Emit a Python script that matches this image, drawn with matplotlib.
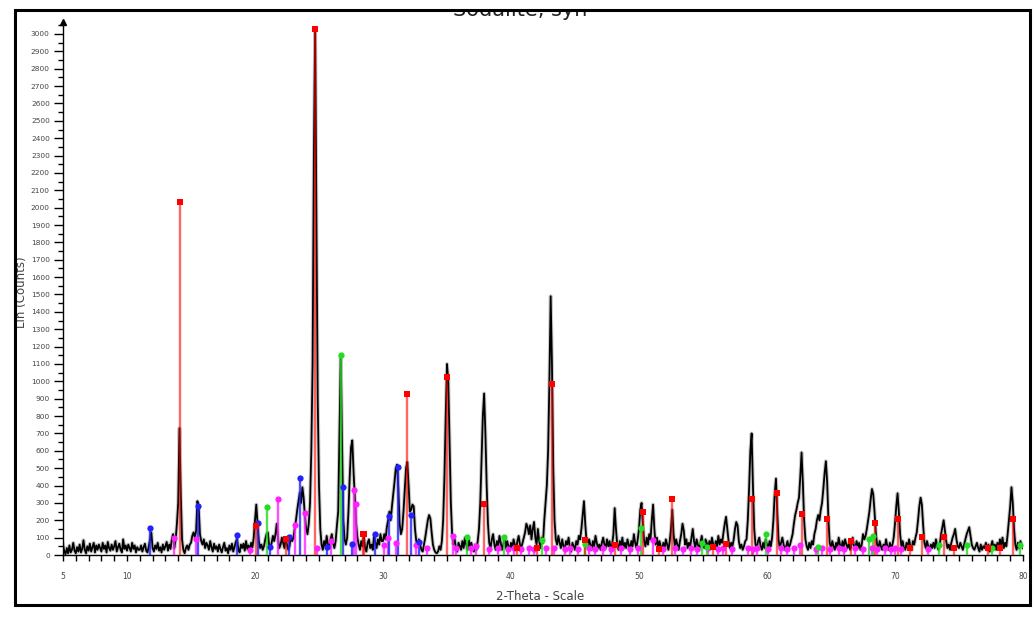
import matplotlib
matplotlib.use("Agg")
import matplotlib.pyplot as plt
from matplotlib.patches import Rectangle
import numpy as np

# ---------------- data ----------------
two_theta_start = 5.0
two_theta_step = 0.1
# measured pattern, one row per degree (x.0 ... x.9), 5..79 then 80.0
counts_rows = [
    [60, 20, 5, 40, 10, 55, 15, 30, 70, 25],          # 5
    [10, 45, 20, 60, 15, 35, 85, 30, 10, 50],         # 6
    [25, 65, 20, 45, 70, 15, 55, 30, 60, 40],         # 7
    [20, 70, 35, 55, 15, 75, 40, 25, 60, 30],         # 8
    [50, 80, 20, 45, 65, 30, 15, 90, 35, 55],         # 9
    [25, 60, 40, 20, 70, 35, 55, 15, 45, 30],         # 10
    [30, 55, 20, 45, 65, 25, 15, 50, 90, 130],        # 11
    [40, 20, 55, 35, 70, 25, 45, 15, 60, 30],         # 12
    [50, 75, 25, 60, 35, 90, 120, 40, 90, 180],       # 13
    [300, 730, 350, 90, 30, 10, 40, 55, 30, 60],      # 14
    [70, 110, 130, 100, 140, 310, 280, 120, 80, 60],  # 15
    [90, 40, 70, 55, 30, 80, 45, 20, 65, 35],         # 16
    [50, 20, 60, 35, 15, 45, 70, 25, 40, 10],         # 17
    [55, 30, 65, 20, 45, 75, 95, 30, 15, 60],         # 18
    [40, 65, 25, 80, 35, 55, 20, 70, 45, 100],        # 19
    [200, 290, 180, 80, 40, 60, 30, 50, 90, 120],     # 20
    [130, 60, 40, 70, 110, 80, 120, 180, 90, 40],     # 21
    [60, 100, 70, 40, 90, 60, 30, 50, 110, 80],       # 22
    [100, 150, 200, 260, 310, 360, 300, 390, 330, 220],   # 23
    [150, 120, 180, 300, 600, 1100, 2300, 3030, 1900, 900],  # 24
    [400, 150, 60, 30, 80, 50, 110, 60, 40, 90],      # 25
    [120, 70, 40, 80, 170, 250, 700, 1150, 650, 200], # 26
    [90, 60, 100, 250, 450, 620, 660, 480, 330, 180], # 27
    [100, 60, 30, 80, 50, 110, 40, 20, 70, 90],       # 28
    [40, 60, 30, 110, 70, 40, 90, 60, 120, 80],       # 29
    [80, 120, 90, 160, 200, 250, 200, 280, 350, 420], # 30
    [500, 520, 380, 180, 120, 150, 250, 380, 500, 535],  # 31
    [400, 250, 260, 290, 280, 150, 80, 50, 90, 60],   # 32
    [30, 20, 60, 100, 150, 200, 230, 210, 130, 60],   # 33
    [30, 15, 10, 20, 50, 30, 80, 200, 450, 800],      # 34
    [1100, 1000, 650, 300, 120, 60, 90, 40, 20, 70],  # 35
    [50, 30, 80, 40, 100, 60, 30, 90, 50, 70],        # 36
    [40, 20, 60, 30, 80, 150, 300, 550, 800, 930],    # 37
    [700, 400, 180, 70, 40, 90, 120, 60, 30, 80],     # 38
    [50, 110, 70, 30, 60, 100, 40, 80, 50, 30],       # 39
    [70, 40, 90, 60, 30, 80, 110, 60, 40, 70],        # 40
    [100, 130, 180, 160, 120, 170, 90, 150, 190, 100],  # 41
    [60, 150, 80, 40, 100, 70, 200, 300, 400, 600],   # 42
    [1000, 1490, 1100, 500, 200, 90, 60, 110, 70, 40],  # 43
    [90, 50, 30, 80, 60, 100, 40, 20, 70, 50],        # 44
    [30, 80, 60, 110, 90, 150, 230, 310, 180, 80],    # 45
    [40, 90, 60, 30, 80, 50, 110, 70, 40, 60],        # 46
    [30, 70, 100, 60, 40, 90, 50, 80, 30, 60],        # 47
    [120, 270, 150, 60, 30, 80, 50, 100, 40, 70],     # 48
    [40, 90, 60, 30, 80, 50, 120, 70, 40, 90],        # 49
    [150, 260, 300, 180, 80, 50, 100, 60, 120, 90],   # 50
    [200, 290, 150, 60, 100, 40, 80, 50, 30, 70],     # 51
    [40, 90, 60, 30, 80, 150, 260, 120, 50, 90],      # 52
    [60, 30, 80, 120, 180, 140, 60, 90, 40, 70],      # 53
    [50, 100, 150, 80, 40, 90, 60, 30, 70, 110],      # 54
    [60, 40, 90, 70, 30, 80, 50, 100, 60, 40],        # 55
    [80, 50, 110, 60, 90, 70, 130, 180, 220, 150],    # 56
    [80, 40, 70, 50, 90, 150, 190, 170, 80, 40],      # 57
    [60, 30, 50, 80, 90, 200, 380, 600, 700, 400],    # 58
    [150, 60, 40, 80, 100, 50, 30, 70, 40, 90],       # 59
    [60, 40, 80, 50, 100, 200, 350, 440, 250, 90],    # 60
    [40, 70, 100, 60, 30, 50, 80, 40, 60, 90],        # 61
    [120, 180, 230, 260, 300, 330, 450, 590, 420, 200],  # 62
    [90, 50, 30, 70, 40, 80, 60, 120, 150, 200],      # 63
    [230, 200, 260, 300, 380, 470, 540, 420, 200, 70],  # 64
    [40, 80, 50, 30, 70, 40, 100, 60, 30, 80],        # 65
    [50, 90, 60, 40, 70, 30, 60, 100, 50, 40],        # 66
    [80, 40, 70, 30, 60, 120, 90, 110, 150, 200],     # 67
    [250, 320, 380, 350, 250, 130, 60, 40, 80, 50],   # 68
    [30, 60, 40, 90, 50, 30, 70, 40, 60, 100],        # 69
    [180, 280, 355, 250, 120, 50, 80, 40, 30, 70],    # 70
    [40, 90, 50, 30, 80, 60, 100, 130, 200, 280],     # 71
    [330, 290, 170, 70, 40, 80, 50, 30, 60, 40],      # 72
    [70, 40, 90, 50, 30, 60, 120, 160, 200, 140],     # 73
    [80, 40, 60, 30, 70, 100, 120, 150, 90, 50],      # 74
    [40, 70, 50, 30, 60, 90, 120, 140, 160, 110],     # 75
    [60, 40, 30, 50, 70, 40, 20, 60, 30, 50],         # 76
    [40, 70, 30, 60, 20, 50, 80, 40, 60, 30],         # 77
    [70, 40, 90, 60, 100, 40, 70, 50, 120, 200],      # 78
    [280, 390, 300, 150, 60, 30, 70, 40, 80, 50],     # 79
    [40],                                             # 80
]

red_pos = [14.15, 20.1, 22.4, 24.65, 28.4, 28.5, 31.9, 35.0, 37.9, 40.5, 42.0, 43.2,
           45.8, 48.1, 50.3, 51.6, 52.6, 55.8, 56.8, 58.8, 60.8, 62.7, 64.7, 66.6,
           68.4, 70.2, 71.2, 72.1, 73.85, 74.6, 77.3, 78.2, 79.2]
red_h = [2030, 165, 90, 3030, 120, 120, 925, 1025, 295, 40, 40, 985,
         85, 60, 245, 35, 325, 45, 65, 325, 355, 235, 210, 80,
         185, 210, 40, 105, 105, 40, 40, 40, 210]

blue_pos = [11.8, 15.55, 18.6, 20.2, 21.2, 22.65, 23.5, 25.6, 26.9, 27.6, 29.4,
            30.5, 31.15, 32.2, 32.8]
blue_h = [155, 280, 115, 185, 45, 105, 445, 45, 390, 65, 120, 225, 505, 230, 75]

green_pos = [20.9, 26.75, 36.55, 39.45, 42.4, 45.8, 50.15, 54.9, 55.3, 59.9, 64.0,
             68.0, 68.3, 73.4, 75.6, 77.6, 79.75]
green_h = [275, 1150, 105, 105, 85, 65, 155, 70, 45, 120, 45, 95, 110, 60, 60, 40, 60]

magenta_pos = [13.7, 15.4, 19.6, 21.8, 23.1, 23.9, 24.85, 25.9, 27.7, 27.9, 30.1, 30.4,
               31.0, 32.6, 33.4, 35.5, 35.7, 36.9, 37.3, 38.3, 39.0, 39.8, 40.2, 40.8,
               41.4, 41.8, 42.7, 43.35, 44.2, 44.6, 45.2, 46.1, 46.6, 47.2, 47.8, 48.6,
               49.3, 49.9, 51.1, 51.9, 52.8, 53.4, 54.1, 54.5, 55.4, 56.2, 56.6, 57.3,
               58.5, 58.9, 59.2, 60.1, 61.1, 61.6, 62.1, 62.6, 63.8, 64.3, 64.9, 65.6,
               66.0, 66.9, 67.5, 68.2, 68.6, 69.2, 69.7, 70.0, 70.5, 72.6]
magenta_h = [100, 95, 30, 320, 170, 240, 40, 80, 375, 295, 60, 100,
             70, 55, 40, 110, 40, 40, 50, 35, 40, 35, 40, 35,
             40, 35, 40, 40, 35, 40, 35, 40, 35, 40, 35, 40,
             35, 40, 85, 35, 40, 35, 40, 35, 40, 35, 40, 35,
             40, 35, 40, 35, 40, 35, 40, 60, 35, 40, 35, 40,
             35, 40, 35, 40, 35, 40, 35, 40, 35, 35]

y_ticks = list(range(0, 3001, 100))
x_ticks = [5, 10, 20, 30, 40, 50, 60, 70, 80]
title_text = "Sodalite, syn"
x_label = "2-Theta - Scale"
y_label = "Lin (Counts)"

# ---------------- figure ----------------
counts = np.array([v for row in counts_rows for v in row], dtype=float)
two_theta = two_theta_start + two_theta_step * np.arange(len(counts))

W, H = 1035, 620
fig = plt.figure(figsize=(W / 100, H / 100), dpi=100)
fig.patch.set_facecolor("white")

ax_l, ax_r, ax_b, ax_t = 63, 1023, 555, 22
ax = fig.add_axes([ax_l / W, 1 - ax_b / H, (ax_r - ax_l) / W, (ax_b - ax_t) / H])
ax.set_xlim(5, 80)
ax.set_ylim(0, 3069)

# soft grey halo + dark core, like the blurred scan trace
ax.plot(two_theta, counts, color="#888888", lw=2.8, alpha=0.45, zorder=2,
        solid_joinstyle="round")
ax.plot(two_theta, counts, color="#000000", lw=1.3, zorder=2.1)


def sticks(pos, h, color, marker, ms, alpha):
    ax.vlines(pos, 0, h, colors=color, lw=1.7, alpha=alpha, zorder=3)
    ax.plot(pos, h, ls="none", marker=marker, ms=ms, color=color,
            markeredgewidth=0, zorder=4, clip_on=False)


sticks(magenta_pos, magenta_h, "#ff22ff", "o", 4.5, 0.8)
sticks(blue_pos, blue_h, "#2222ff", "o", 4.5, 0.8)
sticks(green_pos, green_h, "#22dd22", "o", 4.5, 0.8)
sticks(red_pos, red_h, "#ff0000", "s", 5, 0.6)

for s in ["top", "right"]:
    ax.spines[s].set_visible(False)
for s in ["left", "bottom"]:
    ax.spines[s].set_linewidth(1.0)
    ax.spines[s].set_color("black")

ax.set_yticks(y_ticks)
ax.set_yticks(np.arange(50, 3051, 100), minor=True)
ax.set_xticks(x_ticks)
ax.set_xticks(np.arange(5, 81, 1), minor=True)

ax.tick_params(axis="y", which="major", direction="out", length=6.5, width=1,
               labelsize=5.3, pad=3, labelcolor="#444444")
ax.tick_params(axis="y", which="minor", direction="out", length=3.6, width=1)
ax.tick_params(axis="x", which="both", direction="out", length=4, width=1,
               labelsize=5.5, pad=8, labelcolor="#444444")

ax.plot([0], [1], marker="^", ms=4, color="black", transform=ax.transAxes,
        clip_on=False, zorder=5)

fig.text(22 / W, 1 - 292 / H, y_label, rotation=90, ha="center", va="center",
         fontsize=8.5, color="#444444")
fig.text(540 / W, 1 - 597 / H, x_label, ha="center", va="center",
         fontsize=8.5, color="#444444")

# title partly hidden behind the top frame
t = fig.text(520 / W, 1 - 16 / H, title_text, ha="center", va="baseline",
             fontsize=15, color="#222222")
t.set_zorder(1)
cover = Rectangle((0, 1 - 10 / H), 1, 10 / H, transform=fig.transFigure,
                  facecolor="white", edgecolor="none")
cover.set_zorder(50)
fig.add_artist(cover)
frame = Rectangle((15 / W, 1 - 605 / H), 1015 / W, 595 / H,
                  transform=fig.transFigure, facecolor="none",
                  edgecolor="black", lw=2.2)
frame.set_zorder(60)
fig.add_artist(frame)

fig.savefig("out.png", dpi=100, facecolor="white")
